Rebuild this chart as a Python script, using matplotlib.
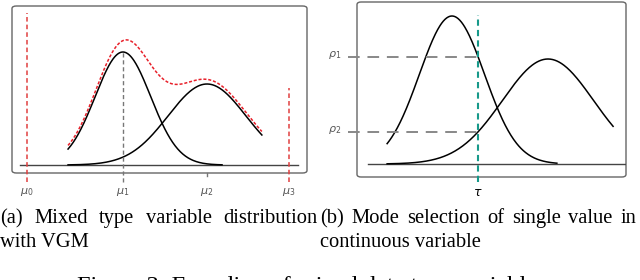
import matplotlib
matplotlib.use('Agg')
import matplotlib.pyplot as plt
from matplotlib.patches import FancyBboxPatch
import numpy as np

# panel (a): two gaussian modes + mixture (red)
a_means = [3.76, 6.61]
a_sigmas = [0.94, 1.32]
a_heights = [1.13, 0.81]
a_ranges = [(1.90, 7.12), (1.90, 8.47)]
mix_range = (1.90, 8.47)
mix_lift = 0.035
mu_pos = [0.51, 3.76, 6.61, 9.39]
mu_labels = ['$\\mu_0$', '$\\mu_1$', '$\\mu_2$', '$\\mu_3$']

# panel (b): two modes and a value tau
b_means = [3.53, 7.10]
b_sigmas = [1.21, 1.69]
b_heights = [1.48, 1.05]
b_ranges = [(1.12, 7.43), (1.12, 9.52)]
tau = 4.50
rho_labels = ['$\\rho_1$', '$\\rho_2$']

cap_a = ['(a) Mixed type variable distribution', 'with VGM']
cap_b = ['(b) Mode selection of single value in', 'continuous variable']
fig_caption = 'Figure 3: Encoding of mixed data type variable'


def gauss(x, m, s, h):
    return h * np.exp(-(x - m) ** 2 / (2 * s ** 2))


fig = plt.figure(figsize=(6.4, 2.8), dpi=100)
W, H = 640, 280


def box(ax):
    ax.axis('off')
    ax.add_patch(FancyBboxPatch((0, 0), 1, 1, transform=ax.transAxes,
                                boxstyle='round,pad=0,rounding_size=0.015',
                                fc='none', ec='#666666', lw=1.0, clip_on=False))


# ---- left panel
ax1 = fig.add_axes([12 / W, 1 - 173 / H, 295 / W, 167 / H])
ax1.set_xlim(0, 10)
ax1.set_ylim(-0.08, 1.59)
box(ax1)
ax1.plot([0.27, 9.69], [0, 0], color='#444444', lw=1.0)
for m, s, h, (x0, x1) in zip(a_means, a_sigmas, a_heights, a_ranges):
    x = np.linspace(x0, x1, 300)
    ax1.plot(x, gauss(x, m, s, h), color='black', lw=1.1)
xm = np.linspace(*mix_range, 400)
mix = sum(gauss(xm, m, s, h) for m, s, h in zip(a_means, a_sigmas, a_heights)) + mix_lift
ax1.plot(xm, mix, color='#e8202a', lw=1.1, dashes=(2, 1.2))
# mu markers
ax1.plot([mu_pos[0]] * 2, [-0.17, 1.52], color='#e04040', lw=1.1, dashes=(3, 2), clip_on=False)
ax1.plot([mu_pos[3]] * 2, [-0.17, 0.77], color='#e04040', lw=1.1, dashes=(3, 2), clip_on=False)
ax1.plot([mu_pos[1]] * 2, [-0.17, a_heights[0]], color='#777777', lw=1.0, dashes=(3, 2), clip_on=False)
ax1.plot([mu_pos[2]] * 2, [-0.08, -0.11], color='#777777', lw=1.0, clip_on=False)
for x, lab in zip(mu_pos, mu_labels):
    ax1.text(x, -0.27, lab, ha='center', va='center', fontsize=8, color='#555555')

# ---- right panel
ax2 = fig.add_axes([357 / W, 1 - 177 / H, 269 / W, 175 / H])
ax2.set_xlim(0, 10)
ax2.set_ylim(-0.13, 1.62)
box(ax2)
ax2.plot([0.41, 10], [0, 0], color='#444444', lw=1.0)
for m, s, h, (x0, x1) in zip(b_means, b_sigmas, b_heights, b_ranges):
    x = np.linspace(x0, x1, 300)
    ax2.plot(x, gauss(x, m, s, h), color='black', lw=1.1)
rhos = [gauss(tau, m, s, h) for m, s, h in zip(b_means, b_sigmas, b_heights)]
for r, lab in zip(rhos, rho_labels):
    ax2.plot([-0.33, tau], [r, r], color='#888888', lw=1.4, dashes=(6, 4), clip_on=False)
    ax2.text(-0.82, r + 0.02, lab, ha='center', va='center', fontsize=8, color='#555555')
ax2.plot([tau, tau], [-0.18, 1.49], color='#17998a', lw=1.5, dashes=(3, 2), clip_on=False)
ax2.text(tau, -0.28, '$\\tau$', ha='center', va='center', fontsize=9, color='black')

# ---- captions (first lines justified like the paper)
serif = ['Liberation Serif', 'DejaVu Serif']
fs = 14.8
renderer = fig.canvas.get_renderer()


def justified(line, x0, x1, y):
    words = line.split()
    texts = [fig.text(0, 1 - y / H, w, ha='left', va='baseline', fontsize=fs, family=serif)
             for w in words]
    widths = [t.get_window_extent(renderer).width for t in texts]
    gap = (x1 - x0 - sum(widths)) / (len(words) - 1)
    x = x0
    for t, w in zip(texts, widths):
        t.set_x(x / W)
        x += w + gap


justified(cap_a[0], 0, 318, 223)
justified(cap_b[0], 320, 636, 223)
fig.text(0, 1 - 247 / H, cap_a[1], ha='left', va='baseline', fontsize=fs, family=serif)
fig.text(320 / W, 1 - 247 / H, cap_b[1], ha='left', va='baseline', fontsize=fs, family=serif)
fig.text(77 / W, 1 - 292 / H, fig_caption, ha='left', va='baseline', fontsize=17.5, family=serif)

fig.savefig('out.png', dpi=100)
